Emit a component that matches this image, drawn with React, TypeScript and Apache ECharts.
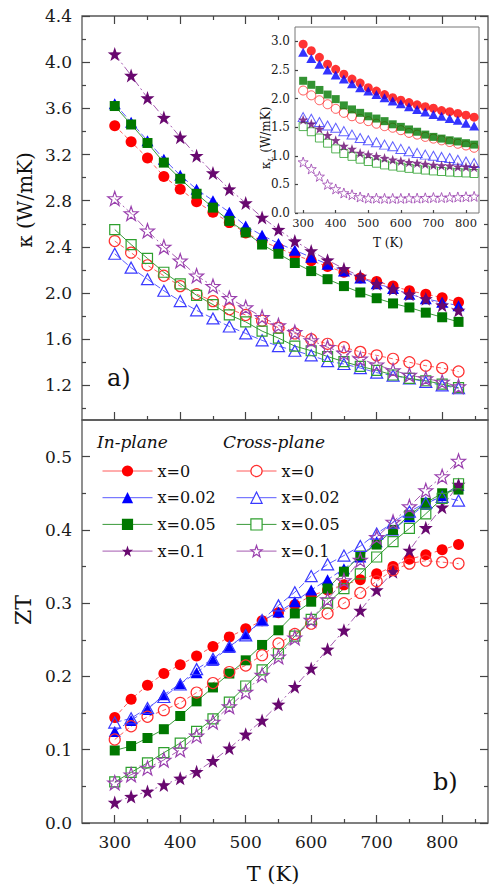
import React, { useEffect, useRef } from "react";
import * as echarts from "echarts";

// ---------- data ----------
const T = [300, 325, 350, 375, 400, 425, 450, 475, 500, 525, 550, 575, 600, 625, 650, 675, 700, 725, 750, 775, 800, 825];

// Top panel: total thermal conductivity kappa (W/mK)
const kInX0 = [3.45, 3.31, 3.17, 3.01, 2.90, 2.79, 2.70, 2.61, 2.52, 2.45, 2.39, 2.33, 2.28, 2.23, 2.18, 2.13, 2.10, 2.06, 2.02, 1.99, 1.96, 1.92];
const kInX002 = [3.64, 3.48, 3.32, 3.16, 3.02, 2.90, 2.80, 2.70, 2.58, 2.50, 2.43, 2.37, 2.31, 2.25, 2.19, 2.13, 2.08, 2.04, 1.99, 1.95, 1.92, 1.89];
const kInX005 = [3.62, 3.46, 3.30, 3.13, 2.99, 2.86, 2.74, 2.625, 2.525, 2.42, 2.34, 2.26, 2.19, 2.12, 2.06, 2.005, 1.955, 1.91, 1.875, 1.83, 1.79, 1.75];
const kInX01 = [4.07, 3.885, 3.69, 3.52, 3.35, 3.19, 3.04, 2.90, 2.78, 2.655, 2.55, 2.45, 2.365, 2.285, 2.21, 2.145, 2.08, 2.035, 1.99, 1.95, 1.895, 1.85];
const kCrX0 = [2.45, 2.35, 2.24, 2.15, 2.06, 1.99, 1.93, 1.86, 1.81, 1.76, 1.70, 1.65, 1.60, 1.56, 1.53, 1.49, 1.46, 1.43, 1.40, 1.37, 1.35, 1.32];
const kCrX002 = [2.34, 2.22, 2.12, 2.02, 1.93, 1.85, 1.78, 1.71, 1.65, 1.59, 1.54, 1.50, 1.46, 1.41, 1.385, 1.35, 1.31, 1.285, 1.26, 1.23, 1.20, 1.175];
const kCrX005 = [2.55, 2.42, 2.30, 2.18, 2.08, 1.98, 1.90, 1.81, 1.75, 1.67, 1.61, 1.54, 1.50, 1.45, 1.405, 1.365, 1.33, 1.29, 1.26, 1.24, 1.21, 1.18];
const kCrX01 = [2.82, 2.69, 2.54, 2.40, 2.28, 2.15, 2.06, 1.955, 1.875, 1.79, 1.72, 1.66, 1.59, 1.53, 1.48, 1.43, 1.38, 1.33, 1.29, 1.26, 1.23, 1.19];

// Inset: lattice thermal conductivity kappa_L (W/mK)
const lInX0 = [2.95, 2.835, 2.72, 2.60, 2.51, 2.425, 2.34, 2.27, 2.19, 2.13, 2.07, 2.015, 1.97, 1.93, 1.89, 1.857, 1.83, 1.79, 1.77, 1.74, 1.71, 1.675];
const lInX002 = [2.81, 2.70, 2.60, 2.50, 2.41, 2.34, 2.26, 2.19, 2.13, 2.07, 2.015, 1.956, 1.91, 1.857, 1.81, 1.763, 1.72, 1.69, 1.65, 1.62, 1.57, 1.52];
const lInX005 = [2.31, 2.24, 2.15, 2.07, 1.99, 1.88, 1.81, 1.75, 1.69, 1.65, 1.605, 1.55, 1.505, 1.46, 1.42, 1.37, 1.33, 1.30, 1.27, 1.25, 1.22, 1.195];
const lInX01 = [1.63, 1.56, 1.47, 1.36, 1.27, 1.17, 1.12, 1.05, 1.02, 0.99, 0.96, 0.93, 0.91, 0.885, 0.873, 0.855, 0.84, 0.83, 0.826, 0.81, 0.81, 0.80];
const lCrX0 = [2.14, 2.056, 1.97, 1.90, 1.82, 1.75, 1.69, 1.646, 1.605, 1.56, 1.517, 1.49, 1.447, 1.40, 1.37, 1.33, 1.30, 1.27, 1.24, 1.21, 1.18, 1.14];
const lCrX002 = [1.675, 1.646, 1.59, 1.53, 1.49, 1.43, 1.37, 1.31, 1.27, 1.236, 1.195, 1.166, 1.12, 1.08, 1.05, 1.02, 1.00, 0.98, 0.96, 0.93, 0.90, 0.873];
const lCrX005 = [1.51, 1.42, 1.31, 1.22, 1.12, 1.04, 0.99, 0.94, 0.90, 0.87, 0.84, 0.82, 0.80, 0.78, 0.765, 0.75, 0.735, 0.725, 0.715, 0.705, 0.70, 0.69];
const lCrX01 = [0.89, 0.77, 0.64, 0.50, 0.42, 0.35, 0.32, 0.28, 0.26, 0.26, 0.255, 0.255, 0.255, 0.26, 0.26, 0.265, 0.27, 0.27, 0.275, 0.28, 0.285, 0.29];

// Bottom panel: ZT
const zInX0 = [0.144, 0.169, 0.188, 0.204, 0.216, 0.228, 0.241, 0.254, 0.265, 0.276, 0.287, 0.298, 0.31, 0.318, 0.325, 0.332, 0.34, 0.35, 0.36, 0.366, 0.373, 0.38];
const zInX002 = [0.125, 0.14, 0.155, 0.175, 0.19, 0.205, 0.222, 0.24, 0.258, 0.276, 0.288, 0.302, 0.318, 0.332, 0.347, 0.363, 0.384, 0.40, 0.418, 0.435, 0.447, 0.461];
const zInX005 = [0.099, 0.105, 0.116, 0.128, 0.146, 0.166, 0.185, 0.204, 0.222, 0.243, 0.263, 0.286, 0.302, 0.32, 0.343, 0.365, 0.38, 0.40, 0.42, 0.437, 0.45, 0.455];
const zInX01 = [0.028, 0.036, 0.043, 0.052, 0.061, 0.07, 0.085, 0.102, 0.121, 0.14, 0.162, 0.186, 0.211, 0.237, 0.263, 0.29, 0.318, 0.343, 0.372, 0.403, 0.431, 0.462];
const zCrX0 = [0.114, 0.132, 0.145, 0.154, 0.164, 0.178, 0.191, 0.206, 0.215, 0.229, 0.245, 0.258, 0.272, 0.286, 0.30, 0.314, 0.33, 0.345, 0.354, 0.358, 0.356, 0.354];
const zCrX002 = [0.137, 0.143, 0.157, 0.172, 0.189, 0.21, 0.224, 0.241, 0.256, 0.277, 0.297, 0.315, 0.337, 0.353, 0.365, 0.378, 0.395, 0.41, 0.425, 0.437, 0.445, 0.44];
const zCrX005 = [0.056, 0.069, 0.082, 0.096, 0.109, 0.125, 0.142, 0.165, 0.187, 0.209, 0.231, 0.255, 0.278, 0.30, 0.32, 0.34, 0.363, 0.384, 0.402, 0.422, 0.443, 0.463];
const zCrX01 = [0.055, 0.066, 0.075, 0.086, 0.10, 0.119, 0.138, 0.159, 0.179, 0.202, 0.227, 0.253, 0.277, 0.305, 0.331, 0.359, 0.39, 0.411, 0.432, 0.454, 0.473, 0.494];

// tick values
const xMajor = [300, 400, 500, 600, 700, 800];
const xMinor = [350, 450, 550, 650, 750, 850];
const kMajor = [1.2, 1.6, 2.0, 2.4, 2.8, 3.2, 3.6, 4.0, 4.4];
const kMinor = [1.0, 1.4, 1.8, 2.2, 2.6, 3.0, 3.4, 3.8, 4.2];
const ztMajor = [0, 0.1, 0.2, 0.3, 0.4, 0.5];
const ztMinor = [0.05, 0.15, 0.25, 0.35, 0.45];
const insetYMajor = [0, 0.5, 1.0, 1.5, 2.0, 2.5, 3.0];

const legendNames = ["x=0", "x=0.02", "x=0.05", "x=0.1"];

// ---------- styles ----------
const FONT = '"DejaVu Serif", serif';
const TICK = "#444";
const STAR = "path://M0,-10L2.35,-3.24L9.51,-3.09L3.8,1.24L5.88,8.09L0,4L-5.88,8.09L-3.8,1.24L-9.51,-3.09L-2.35,-3.24Z";

type Kind = {
  symbol: string;
  size: number | number[];
  insetSize: number | number[];
  fill: string;
  open: string;
  line: string;
  dash: any;
};
const KINDS: Kind[] = [
  { symbol: "circle", size: 11, insetSize: 9, fill: "#ff0000", open: "#ff3030", line: "#ff5a5a", dash: [4, 3] },
  { symbol: "triangle", size: [12, 11], insetSize: [10, 9], fill: "#0000ff", open: "#3a3aff", line: "#5a5aff", dash: [7, 3] },
  { symbol: "rect", size: 10, insetSize: 8, fill: "#007800", open: "#2ea02e", line: "#3a9a3a", dash: "solid" },
  { symbol: STAR, size: 14, insetSize: 10, fill: "#68086f", open: "#9a40ae", line: "#a45ab0", dash: [8, 3, 2, 3] },
];

const pts = (vals: number[]) => T.map((t, i) => [t, vals[i]]);
const OPEN_FILL = "rgba(255,255,255,0)";

function lineSeries(name: string, vals: number[], k: Kind, filled: boolean, xi: number, yi: number) {
  return {
    type: "line",
    name,
    xAxisIndex: xi,
    yAxisIndex: yi,
    data: pts(vals),
    symbol: k.symbol,
    symbolSize: k.size,
    showSymbol: true,
    showAllSymbol: true,
    lineStyle: { color: k.line, width: 1, type: k.dash },
    itemStyle: filled
      ? { color: k.fill, borderColor: k.fill, borderWidth: 0 }
      : { color: OPEN_FILL, borderColor: k.open, borderWidth: 1.2 },
    emphasis: { disabled: true },
    silent: true,
  };
}

function scatterSeries(name: string, vals: number[], k: Kind, filled: boolean) {
  return {
    type: "scatter",
    name,
    xAxisIndex: 6,
    yAxisIndex: 8,
    data: pts(vals),
    symbol: k.symbol,
    symbolSize: k.insetSize,
    itemStyle: filled
      ? { color: k.fill, borderWidth: 0 }
      : { color: OPEN_FILL, borderColor: k.open, borderWidth: 1 },
    emphasis: { disabled: true },
    silent: true,
  };
}

const tickStyle = { color: TICK, width: 1.2 };
function xAx(gridIndex: number, position: string, min: number, max: number, ticks: number[], len: number, label?: any) {
  return {
    type: "value",
    gridIndex,
    position,
    min,
    max,
    splitLine: { show: false },
    axisLine: { show: false },
    axisTick: { show: ticks.length > 0, inside: true, length: len, customValues: ticks, lineStyle: tickStyle },
    axisLabel: label ? label : { show: false },
  };
}
function yAx(gridIndex: number, position: string, min: number, max: number, ticks: number[], len: number, label?: any) {
  return {
    type: "value",
    gridIndex,
    position,
    min,
    max,
    splitLine: { show: false },
    axisLine: { show: false },
    axisTick: { show: ticks.length > 0, inside: true, length: len, customValues: ticks, lineStyle: tickStyle },
    axisLabel: label ? label : { show: false },
  };
}

export default function App() {
  const ref = useRef<HTMLDivElement>(null);
  useEffect(() => {
    if (!ref.current) return;
    const chart = echarts.init(ref.current, null, { renderer: "svg" });

    const inNames = legendNames.map((n) => "In " + n);
    const crNames = legendNames.map((n) => "Cross " + n);
    const inZ = [zInX0, zInX002, zInX005, zInX01];
    const crZ = [zCrX0, zCrX002, zCrX005, zCrX01];
    const inK = [kInX0, kInX002, kInX005, kInX01];
    const crK = [kCrX0, kCrX002, kCrX005, kCrX01];
    const inL = [lInX0, lInX002, lInX005, lInX01];
    const crL = [lCrX0, lCrX002, lCrX005, lCrX01];

    const series: any[] = [];
    KINDS.forEach((k, i) => series.push(lineSeries(inNames[i], inZ[i], k, true, 4, 4)));
    KINDS.forEach((k, i) => series.push(lineSeries(crNames[i], crZ[i], k, false, 4, 4)));
    KINDS.forEach((k, i) => series.push(lineSeries("kCr" + i, crK[i], k, false, 0, 0)));
    KINDS.forEach((k, i) => series.push(lineSeries("kIn" + i, inK[i], k, true, 0, 0)));
    KINDS.forEach((k, i) => series.push(scatterSeries("lCr" + i, crL[i], k, false)));
    KINDS.forEach((k, i) => series.push(scatterSeries("lIn" + i, inL[i], k, true)));

    const mainLabel = (vals: number[], margin: number) => ({
      show: true,
      customValues: vals,
      fontFamily: FONT,
      fontSize: 17,
      color: "#1a1a1a",
      margin,
      formatter: (v: number) => (Number.isInteger(v) && v >= 100 ? String(v) : v.toFixed(1)),
    });

    const legendCommon = {
      orient: "vertical",
      itemHeight: 14,
      itemGap: 10.7,
      selectedMode: false,
      textStyle: { fontFamily: FONT, fontSize: 16, color: "#111", lineHeight: 16 },
      lineStyle: { type: "solid", width: 1 },
      formatter: (n: string) => n.split(" ")[1],
    };

    const inLegendData = inNames.map((name, i) => ({
      name,
      itemStyle: { color: KINDS[i].fill, borderWidth: 0 },
      lineStyle: { color: KINDS[i].line, type: "solid", width: 1 },
    }));
    const crLegendData = crNames.map((name, i) => ({
      name,
      itemStyle: { color: "#ffffff", borderColor: KINDS[i].open, borderWidth: 1.2 },
      lineStyle: { color: KINDS[i].line, type: "solid", width: 1 },
    }));

    const option: any = {
      animation: false,
      backgroundColor: "#fff",
      grid: [
        { left: 82, top: 16, width: 406, height: 404, show: true, borderColor: "#555", borderWidth: 1.3, backgroundColor: "rgba(0,0,0,0)" },
        { left: 82, top: 420, width: 406, height: 403, show: true, borderColor: "#555", borderWidth: 1.3, backgroundColor: "rgba(0,0,0,0)" },
        { left: 295, top: 27, width: 184, height: 186, show: true, borderColor: "#777", borderWidth: 1, backgroundColor: "#fff" },
      ],
      xAxis: [
        xAx(0, "bottom", 250, 870, xMajor, 8),
        xAx(0, "bottom", 250, 870, xMinor, 4),
        xAx(0, "top", 250, 870, xMajor, 8),
        xAx(0, "top", 250, 870, xMinor, 4),
        xAx(1, "bottom", 250, 870, xMajor, 8, mainLabel(xMajor, 10)),
        xAx(1, "bottom", 250, 870, xMinor, 4),
        xAx(2, "bottom", 275, 840, xMajor, 3, {
          show: true,
          customValues: xMajor,
          fontFamily: FONT,
          fontSize: 11.5,
          color: "#1a1a1a",
          margin: 4,
        }),
      ],
      yAxis: [
        yAx(0, "left", 0.9, 4.4, kMajor, 8, mainLabel(kMajor, 10)),
        yAx(0, "left", 0.9, 4.4, kMinor, 4),
        yAx(0, "right", 0.9, 4.4, kMajor, 8),
        yAx(0, "right", 0.9, 4.4, kMinor, 4),
        yAx(1, "left", 0, 0.55, ztMajor, 8, mainLabel(ztMajor, 10)),
        yAx(1, "left", 0, 0.55, ztMinor, 4),
        yAx(1, "right", 0, 0.55, ztMajor, 8),
        yAx(1, "right", 0, 0.55, ztMinor, 4),
        yAx(2, "left", 0, 3.25, insetYMajor, 3, {
          show: true,
          customValues: insetYMajor,
          fontFamily: FONT,
          fontSize: 12,
          color: "#1a1a1a",
          margin: 5,
          formatter: (v: number) => v.toFixed(1),
        }),
      ],
      legend: [
        { ...legendCommon, data: inLegendData, left: 97, top: 458, itemWidth: 50 },
        { ...legendCommon, data: crLegendData, left: 231, top: 458, itemWidth: 40 },
      ],
      graphic: [
        { type: "text", x: 25, y: 200, rotation: Math.PI / 2, style: { text: "κ (W/mK)", font: `20px ${FONT}`, fill: "#111", align: "center", verticalAlign: "middle", textAlign: "center", textVerticalAlign: "middle" } },
        { type: "text", x: 23, y: 610, rotation: Math.PI / 2, style: { text: "ZT", font: `22px ${FONT}`, fill: "#111", align: "center", verticalAlign: "middle", textAlign: "center", textVerticalAlign: "middle" } },
        { type: "text", x: 273, y: 874, style: { text: "T (K)", font: `21px ${FONT}`, fill: "#111", align: "center", verticalAlign: "middle", textAlign: "center", textVerticalAlign: "middle" } },
        { type: "text", x: 107, y: 378, style: { text: "a)", font: `24px ${FONT}`, fill: "#111", align: "left", verticalAlign: "middle", textAlign: "left", textVerticalAlign: "middle" } },
        { type: "text", x: 433, y: 782, style: { text: "b)", font: `24px ${FONT}`, fill: "#111", align: "left", verticalAlign: "middle", textAlign: "left", textVerticalAlign: "middle" } },
        { type: "text", x: 97, y: 442, style: { text: "In-plane", font: `italic 17px ${FONT}`, fill: "#111", align: "left", verticalAlign: "middle", textAlign: "left", textVerticalAlign: "middle" } },
        { type: "text", x: 223, y: 442, style: { text: "Cross-plane", font: `italic 17px ${FONT}`, fill: "#111", align: "left", verticalAlign: "middle", textAlign: "left", textVerticalAlign: "middle" } },
        { type: "text", x: 388, y: 243, style: { text: "T (K)", font: `12px ${FONT}`, fill: "#111", align: "center", verticalAlign: "middle", textAlign: "center", textVerticalAlign: "middle" } },
        {
          type: "text",
          x: 266,
          y: 138,
          rotation: Math.PI / 2,
          style: {
            text: "{a|κ}{b|L}{a| (W/mK)}",
            align: "center",
            verticalAlign: "middle",
            textAlign: "center",
            textVerticalAlign: "middle",
            fill: "#111",
            rich: {
              a: { fontFamily: FONT, fontSize: 12, lineHeight: 16, fill: "#111", color: "#111", verticalAlign: "middle" },
              b: { fontFamily: FONT, fontSize: 8, fontStyle: "italic", lineHeight: 8, fill: "#111", color: "#111", verticalAlign: "bottom", padding: [4, 0, 0, 0] },
            },
          },
        },
      ],
      series,
    };
    chart.setOption(option);
    return () => chart.dispose();
  }, []);

  return (
    <div
      ref={ref}
      style={{ position: "fixed", left: 0, top: 0, width: 489, height: 890, background: "#fff" }}
    />
  );
}
